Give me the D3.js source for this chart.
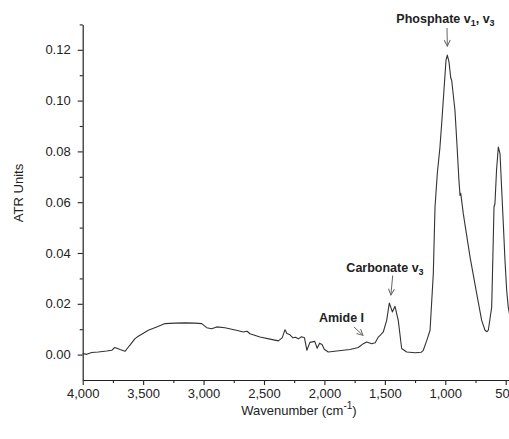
<!DOCTYPE html>
<html>
<head>
<meta charset="utf-8">
<script src="https://cdn.jsdelivr.net/npm/d3@7"></script>
<style>
	body { margin: 0; background: white; }
	#chart { width: 509px; height: 439px; }
	text { font-family: "Liberation Sans", Arial, sans-serif; fill: #222; }
</style>
</head>
<body>
<div id="chart"></div>
<script>

var wavenumber = [4000, 3967, 3926, 3871, 3801, 3760, 3740, 3733, 3691, 3650, 3630, 3609, 3567, 3540, 3512, 3457, 3388, 3319, 3236, 3154,
	3071, 3015, 2974, 2933, 2891, 2823, 2767, 2720, 2671, 2640, 2616, 2533, 2450, 2381, 2350, 2326, 2310, 2285, 2260, 2240,
	2216, 2190, 2165, 2145, 2120, 2100, 2080, 2060, 2040, 2020, 2000, 1968, 1898, 1788, 1720, 1678, 1650, 1609, 1580, 1554,
	1535, 1513, 1485, 1463, 1438, 1416, 1389, 1361, 1319, 1250, 1200, 1182, 1150, 1126, 1099, 1085, 1066, 1044, 1030, 1011,
	994, 983, 969, 955, 947, 920, 903, 887, 878, 872, 851, 795, 740, 699, 671, 655, 644, 616, 605, 597,
	589, 576, 561, 547, 535, 520, 506, 492, 479, 465];

var atrUnits = [0.0004, 0.0001, 0.0008, 0.0010, 0.0014, 0.0017, 0.0026, 0.0028, 0.0020, 0.0013, 0.0025, 0.0037, 0.0063, 0.0072, 0.0080, 0.0096, 0.0109, 0.0122, 0.0124, 0.0125,
	0.0124, 0.0122, 0.0106, 0.0102, 0.0109, 0.0106, 0.0100, 0.0095, 0.0089, 0.0092, 0.0082, 0.0069, 0.0061, 0.0054, 0.0066, 0.0098, 0.0083, 0.0078, 0.0066, 0.0068,
	0.0062, 0.0070, 0.0066, 0.0017, 0.0048, 0.0050, 0.0052, 0.0025, 0.0045, 0.0040, 0.0020, 0.0010, 0.0014, 0.0020, 0.0028, 0.0043, 0.0050, 0.0043, 0.0047, 0.0069,
	0.0078, 0.0089, 0.0135, 0.0203, 0.0168, 0.0190, 0.0135, 0.0024, 0.0010, 0.0007, 0.0009, 0.0017, 0.0060, 0.0096, 0.0319, 0.0581, 0.0713, 0.0817, 0.0909, 0.1041,
	0.1159, 0.1179, 0.1151, 0.1090, 0.1080, 0.0962, 0.0824, 0.0686, 0.0627, 0.0635, 0.0555, 0.0384, 0.0240, 0.0135, 0.0096, 0.0090, 0.0096, 0.0187, 0.0410, 0.0581,
	0.0594, 0.0726, 0.0817, 0.0791, 0.0667, 0.0516, 0.0371, 0.0253, 0.0187, 0.0150];

var xTicks = [4000, 3500, 3000, 2500, 2000, 1500, 1000, 500];
var xMinorTicks = [3750, 3250, 2750, 2250, 1750, 1250, 750];
var yTicks = [0.00, 0.02, 0.04, 0.06, 0.08, 0.10, 0.12];
var yMinorTicks = [0.01, 0.03, 0.05, 0.07, 0.09, 0.11, 0.13];

// label text, subscripts, band position (cm-1, ATR) the arrow points at
var bandNames = ["Phosphate v", "Carbonate v", "Amide I"];
var bandSubs = [["1", ", v", "3"], ["3"], []];
var bandAt = [[983, 0.1179], [1450, 0.0215], [1640, 0.0060]];

drawChart();

function drawChart(){

	var width = 509;
	var height = 439;

	var svg = d3.select("#chart").append("svg")
		.attr("width", width)
		.attr("height", height);

	var x = d3.scaleLinear().domain([4000, 400]).range([82.7, 517.8]);
	var y = d3.scaleLinear().domain([-0.01, 0.13]).range([380, 24.4]);

	svg.append("g").attr("transform", "translate(0,380)")
		.call(d3.axisBottom(x).tickValues(xTicks).tickFormat(d3.format(",")).tickSize(5).tickSizeOuter(0).tickPadding(4));
	svg.append("g").attr("transform", "translate(0,380)")
		.call(d3.axisBottom(x).tickValues(xMinorTicks).tickFormat("").tickSize(3).tickSizeOuter(0))
		.select(".domain").remove();

	svg.append("g").attr("transform", "translate(82.7,0)")
		.call(d3.axisLeft(y).tickValues(yTicks).tickFormat(d3.format(".2f")).tickSize(5).tickSizeOuter(0).tickPadding(7));
	svg.append("g").attr("transform", "translate(82.7,0)")
		.call(d3.axisLeft(y).tickValues(yMinorTicks).tickFormat("").tickSize(3).tickSizeOuter(0))
		.select(".domain").remove();

	svg.selectAll(".domain").attr("stroke", "#222").attr("stroke-width", 1.2);
	svg.selectAll(".tick line").attr("stroke", "#222").attr("stroke-width", 1.1);
	svg.selectAll(".tick text").attr("font-size", "13px").attr("fill", "#222")
		.attr("font-family", "'Liberation Sans', Arial, sans-serif");

	var line = d3.line().x(function (d, i) { return x(wavenumber[i]); }).y(function (d) { return y(d); });

	svg.append("path").datum(atrUnits)
		.attr("d", line)
		.attr("fill", "none")
		.attr("stroke", "#333")
		.attr("stroke-width", 1.1)
		.attr("stroke-linejoin", "round");

	svg.append("text").attr("x", 299).attr("y", 415).attr("text-anchor", "middle").attr("font-size", "13px")
		.text("Wavenumber (cm")
		.append("tspan").attr("dy", -6).attr("font-size", "10px").text("-1")
		.select(function () { return this.parentNode; })
		.append("tspan").attr("dy", 6).text(")");

	svg.append("text").attr("transform", "translate(22.5,193) rotate(-90)")
		.attr("text-anchor", "middle").attr("font-size", "13px").text("ATR Units");

	svg.append("defs").append("marker").attr("id", "head")
		.attr("viewBox", "0 0 8 8").attr("refX", 7).attr("refY", 4)
		.attr("markerWidth", 8).attr("markerHeight", 8).attr("markerUnits", "userSpaceOnUse")
		.attr("orient", "auto")
		.append("path").attr("d", "M1,1 L7,4 L1,7").attr("fill", "none").attr("stroke", "#666").attr("stroke-width", 1);

	// label x, baseline, arrow start / end offsets
	var labelX = [445.5, 385, 341.5];
	var labelY = [22.5, 271.5, 321.5];
	var arrowFrom = [[447, 28], [392.7, 275.5], [354, 327]];
	var arrowGap = [[0, -9], [0, -5], [-5, -4]];

	for (var i = 0; i < bandNames.length; i++) {
		var t = svg.append("text").attr("x", labelX[i]).attr("y", labelY[i])
			.attr("text-anchor", "middle").attr("font-size", "12.5px").attr("font-weight", "bold")
			.text(bandNames[i]);
		for (var j = 0; j < bandSubs[i].length; j++) {
			var isSub = j % 2 == 0;
			t.append("tspan").attr("dy", isSub ? 3 : -3).attr("font-size", isSub ? "9px" : "12.5px").text(bandSubs[i][j]);
		}
		svg.append("line")
			.attr("x1", arrowFrom[i][0]).attr("y1", arrowFrom[i][1])
			.attr("x2", x(bandAt[i][0]) + arrowGap[i][0]).attr("y2", y(bandAt[i][1]) + arrowGap[i][1])
			.attr("stroke", "#666").attr("stroke-width", 1)
			.attr("marker-end", "url(#head)");
	}
}
</script>
</body>
</html>
